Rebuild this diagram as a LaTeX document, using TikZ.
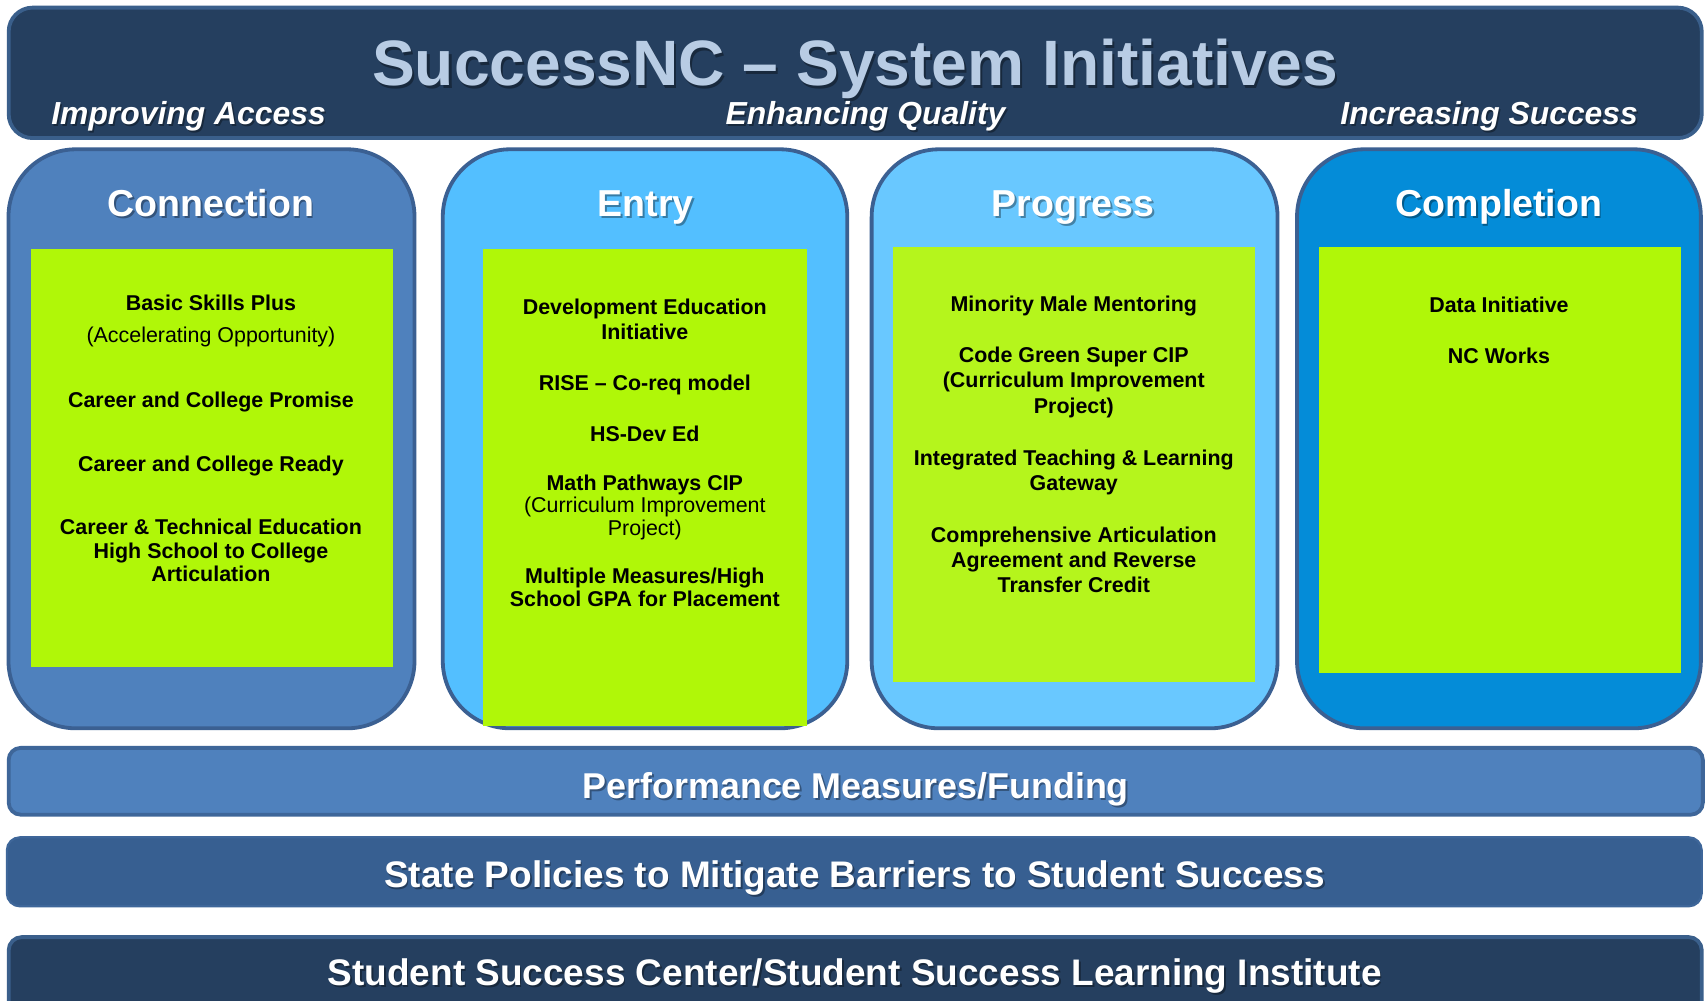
\documentclass[tikz,border=0pt]{standalone}
\usepackage{fontspec}
\setmainfont{Liberation Sans}
\definecolor{navy}{HTML}{253F5F}
\definecolor{navyedge}{HTML}{3A5F8B}
\definecolor{titleblue}{HTML}{B8CCE4}
\definecolor{connfill}{HTML}{4F81BD}
\definecolor{coledge}{HTML}{3B6092}
\definecolor{entryfill}{HTML}{53BFFF}
\definecolor{progfill}{HTML}{69C8FF}
\definecolor{compfill}{HTML}{048CD8}
\definecolor{lime}{HTML}{B0F708}
\definecolor{limeb}{HTML}{B5F51C}
\definecolor{statefill}{HTML}{375F91}
\definecolor{stateedge}{HTML}{3E6699}
\begin{document}
\begin{tikzpicture}[x=1pt,y=-1pt,
  txtbase/.style={inner sep=0pt, anchor=base},
  ttl/.style={txtbase, font=\fontsize{59}{60}\selectfont\bfseries, text=titleblue},
  subttl/.style={txtbase, font=\fontsize{29.3}{30}\selectfont\bfseries\itshape, text=white},
  colttl/.style={txtbase, font=\fontsize{34.5}{36}\selectfont\bfseries, text=white},
  bartxt/.style={txtbase, font=\fontsize{34}{36}\selectfont\bfseries, text=white},
  shd/.style={text=black, text opacity=0.35},
  itm/.style={txtbase, font=\fontsize{19.7}{22}\selectfont\bfseries, text=black},
  itmr/.style={txtbase, font=\fontsize{19.7}{22}\selectfont, text=black},
  colbox/.style={draw=coledge, line width=3.5pt, rounded corners=62pt},
  greenbox/.style={fill=lime},
  barbox/.style={line width=3.5pt, rounded corners=11pt},
]
\clip (0,0) rectangle (1568,920);
\fill[white] (0,0) rectangle (1568,920);

% ---------- top banner ----------
\draw[barbox, fill=navy, draw=navyedge, rounded corners=22pt] (8,7) rectangle (1565,127);
\node[ttl, shd] (titlesh) at (788.5,81.5) {SuccessNC – System Initiatives};
\node[ttl] (title) at (786.5,79) {SuccessNC – System Initiatives};
\node[subttl, shd, anchor=base west] (accsh) at (48.5,116) {Improving Access};
\node[subttl, anchor=base west] (acc) at (47,114.4) {Improving Access};
\node[subttl, shd] (qualsh) at (797.5,116) {Enhancing Quality};
\node[subttl] (qual) at (796,114.4) {Enhancing Quality};
\node[subttl, shd, anchor=base east] (succsh) at (1508,116) {Increasing Success};
\node[subttl, anchor=base east] (succ) at (1506.5,114.4) {Increasing Success};

% ---------- columns ----------
\draw[colbox, fill=connfill] (7.8,137.3) rectangle (381.2,669.8);
\draw[colbox, fill=entryfill] (407.2,137.3) rectangle (779.2,669.8);
\draw[colbox, fill=progfill] (801.6,137.3) rectangle (1174.9,669.8);
\draw[colbox, fill=compfill] (1192.8,137.3) rectangle (1564.2,669.8);

\fill[greenbox] (28.5,229) rectangle (361.6,613.6);
\fill[greenbox] (444.5,229) rectangle (742.5,667.3);
\fill[greenbox, fill=limeb] (821.6,227.2) rectangle (1154.6,627.1);
\fill[greenbox] (1212.6,227.2) rectangle (1545.6,619);

\node[colttl, shd] (connsh) at (195.5,201) {Connection};
\node[colttl] (conn) at (194,199) {Connection};
\node[colttl, shd] (entrysh) at (595.5,201) {Entry};
\node[colttl] (entry) at (594,199) {Entry};
\node[colttl, shd] (progsh) at (988.5,201) {Progress};
\node[colttl] (prog) at (987,199) {Progress};
\node[colttl, shd] (compsh) at (1380,201) {Completion};
\node[colttl] (comp) at (1378.5,199) {Completion};

% Connection items
\node[itm] (c1) at (194,286) {Basic Skills Plus};
\node[itmr] (c1b) at (194,315) {(Accelerating Opportunity)};
\node[itm] (c2) at (194,375) {Career and College Promise};
\node[itm] (c3) at (194,434) {Career and College Ready};
\node[itm] (c4a) at (194,492) {Career \& Technical Education};
\node[itm] (c4b) at (194,514) {High School to College};
\node[itm] (c4c) at (194,535) {Articulation};

% Entry items
\node[itm] (e1a) at (593,289) {Development Education};
\node[itm] (e1b) at (593,312) {Initiative};
\node[itm] (e2) at (593,359) {RISE – Co-req model};
\node[itm] (e3) at (593,406) {HS-Dev Ed};
\node[itm] (e4a) at (593,451) {Math Pathways CIP};
\node[itmr] (e4b) at (593,471.7) {(Curriculum Improvement};
\node[itmr] (e4c) at (593,492.2) {Project)};
\node[itm] (e5a) at (593,537) {Multiple Measures/High};
\node[itm] (e5b) at (593,558) {School GPA for Placement};

% Progress items
\node[itm] (p1) at (987.5,286.7) {Minority Male Mentoring};
\node[itm] (p2a) at (987.5,333.6) {Code Green Super CIP};
\node[itm] (p2b) at (987.5,356.3) {(Curriculum Improvement};
\node[itm] (p2c) at (987.5,380.3) {Project)};
\node[itm] (p3a) at (987.5,427.8) {Integrated Teaching \& Learning};
\node[itm] (p3b) at (987.5,451.4) {Gateway};
\node[itm] (p4a) at (987.5,499) {Comprehensive Articulation};
\node[itm] (p4b) at (987.5,522.2) {Agreement and Reverse};
\node[itm] (p4c) at (987.5,545.2) {Transfer Credit};

% Completion items
\node[itm] (d1) at (1378.5,287) {Data Initiative};
\node[itm] (d2) at (1378.5,334) {NC Works};

% ---------- bottom bars ----------
\draw[barbox, fill=connfill, draw=stateedge] (8,687.8) rectangle (1566,749.2);
\node[bartxt, shd, font=\fontsize{33}{36}\selectfont\bfseries] (perfsh) at (788.5,736) {Performance Measures/Funding};
\node[bartxt, font=\fontsize{33}{36}\selectfont\bfseries] (perf) at (787,734) {Performance Measures/Funding};

\draw[barbox, fill=statefill, draw=stateedge, line width=2pt, rounded corners=12pt] (6.3,770) rectangle (1565,833.5);
\node[bartxt, shd] (statesh) at (787.5,818.3) {State Policies to Mitigate Barriers to Student Success};
\node[bartxt] (state) at (786,816.3) {State Policies to Mitigate Barriers to Student Success};

\draw[barbox, fill=navy, draw=navyedge, rounded corners=12pt] (8,861.8) rectangle (1565,960);
\node[bartxt, shd] (sscsh) at (787.5,908.5) {Student Success Center/Student Success Learning Institute};
\node[bartxt] (ssc) at (786,906.5) {Student Success Center/Student Success Learning Institute};
\end{tikzpicture}
\end{document}
